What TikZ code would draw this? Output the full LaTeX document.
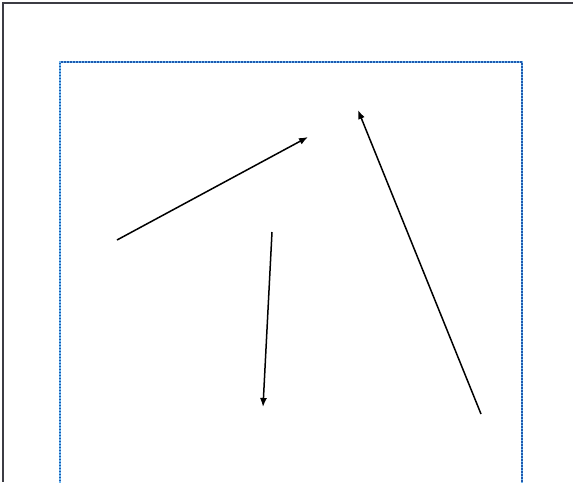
\documentclass[tikz,border=0pt]{standalone}
\usetikzlibrary{arrows.meta}
\definecolor{frame}{HTML}{3C3C44}
\definecolor{dotblue}{HTML}{1F5AAE}
\definecolor{lightblue}{HTML}{6FB8F0}
\tikzset{
  arr/.style={line width=1.5pt, black, -{Latex[length=9pt,width=7pt]}},
  win/.style={frame, line width=2.6pt},
  pageunder/.style={lightblue, line width=2pt},
  pagebox/.style={dotblue, line width=2pt, dash pattern=on 1.5pt off 1.5pt}
}
\begin{document}
\begin{tikzpicture}[x=1pt,y=-1pt]
\useasboundingbox (0,0) rectangle (573,482);
\fill[white] (0,0) rectangle (573,482);
% window frame
\coordinate (tl) at (3,3);
\coordinate (tr) at (573,3);
\coordinate (bl) at (3,482);
\draw[win] (tr) -- (tl) -- (bl);
% dotted page box
\coordinate (p1) at (60,484);
\coordinate (p2) at (60,62);
\coordinate (p3) at (522,62);
\coordinate (p4) at (522,484);
\draw[pageunder] (p1) -- (p2) -- (p3) -- (p4);
\draw[pagebox] (p1) -- (p2) -- (p3) -- (p4);
% arrows
\coordinate (a1) at (117,240);
\coordinate (b1) at (308,137);
\coordinate (a2) at (272,232);
\coordinate (b2) at (263,407);
\coordinate (a3) at (481,414);
\coordinate (b3) at (358,110);
\draw[arr] (a1) -- (b1);
\draw[arr] (a2) -- (b2);
\draw[arr] (a3) -- (b3);
\end{tikzpicture}
\end{document}
